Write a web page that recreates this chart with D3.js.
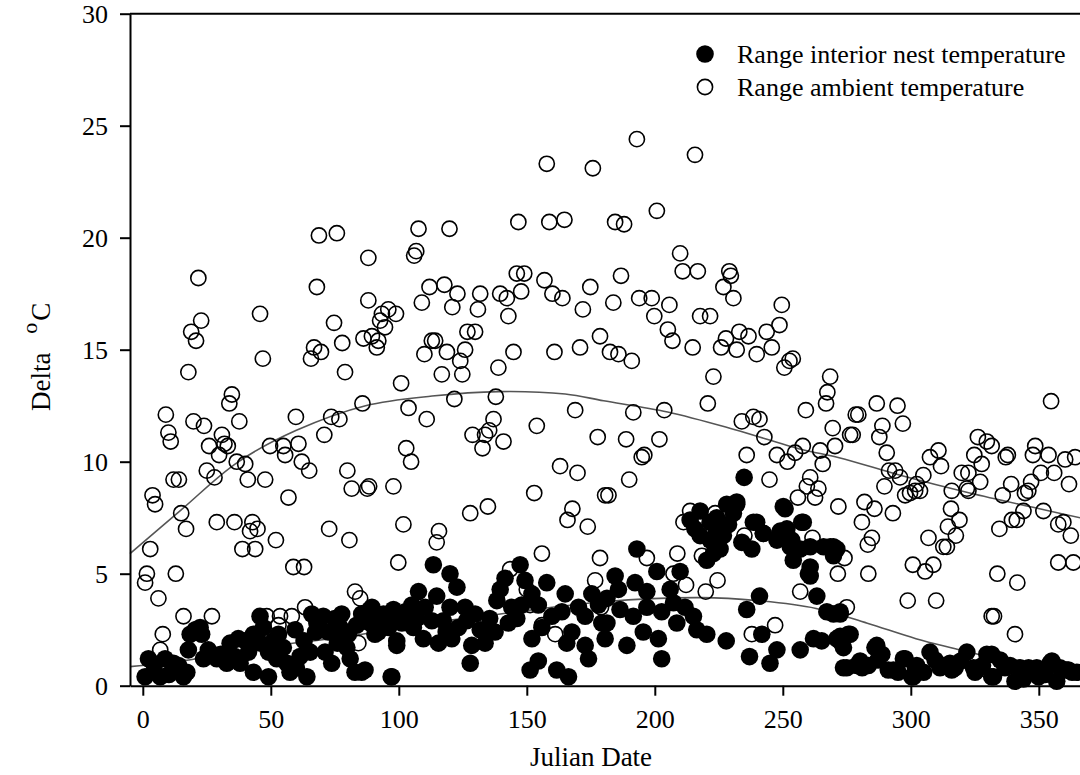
<!DOCTYPE html>
<html>
<head>
<meta charset="utf-8">
<script src="https://cdn.jsdelivr.net/npm/d3@7"></script>
<style>
  html, body { margin: 0; padding: 0; background: #fff; }
  svg { display: block; font-family: "Liberation Serif", "Times New Roman", serif; }
</style>
</head>
<body>
<div id="chart"></div>
<script>
// Julian day, delta degC  -- range of ambient temperature (open circles)
var ambientPts = [
  [21.7,18.2],[22.8,16.3],[18.9,15.8],[20.8,15.4],[17.8,14.0],[34.8,13.0],[33.8,12.6],[9.0,12.1],[10.0,11.3],[10.9,10.9],
  [19.8,11.8],[23.9,11.6],[25.9,10.7],[30.9,11.2],[31.9,10.8],[33.2,10.7],[29.8,10.3],[37.7,11.8],[45.8,16.6],[46.9,14.6],
  [68.8,20.1],[75.8,20.2],[68.0,17.8],[74.7,16.2],[66.9,15.1],[69.6,14.9],[65.7,14.6],[77.9,15.3],[79.0,14.0],[86.2,15.5],
  [88.1,19.1],[88.1,17.2],[59.8,12.0],[73.6,12.0],[76.8,11.9],[70.9,11.2],[85.8,12.6],[49.7,10.7],[54.9,10.7],[55.6,10.3],
  [60.8,10.8],[62.1,10.0],[65.0,9.6],[36.7,10.0],[40.0,9.9],[41.0,9.2],[47.8,9.2],[25.0,9.6],[28.0,9.3],[12.0,9.2],
  [14.1,9.2],[3.8,8.5],[4.8,8.1],[56.9,8.4],[79.9,9.6],[81.6,8.8],[87.7,8.8],[15.0,7.7],[16.9,7.0],[28.9,7.3],
  [35.8,7.3],[42.8,7.3],[41.9,6.9],[44.8,7.0],[38.9,6.1],[43.9,6.1],[52.0,6.5],[72.8,7.0],[80.7,6.5],[2.9,6.1],
  [1.6,5.0],[0.9,4.6],[12.9,5.0],[6.1,3.9],[58.8,5.3],[63.0,5.3],[15.9,3.1],[27.0,3.1],[7.8,2.3],[6.8,1.6],
  [82.9,4.2],[84.9,3.9],[84.2,1.9],[48.4,3.1],[53.6,3.1],[58.2,3.1],[53.0,2.7],[63.4,3.5],
  [157.8,23.3],[175.8,23.1],[107.7,20.4],[119.8,20.4],[146.7,20.7],[158.8,20.7],[164.7,20.8],[106.8,19.4],[106.0,19.2],[112.0,17.8],
  [117.8,17.9],[122.9,17.5],[131.8,17.5],[109.0,17.1],[120.9,16.9],[130.9,16.8],[139.6,17.5],[142.2,17.3],[146.1,18.4],[149.0,18.4],
  [147.8,17.6],[142.8,16.5],[156.9,18.1],[160.0,17.5],[163.9,17.3],[174.8,17.8],[171.9,16.8],[93.4,16.6],[95.9,16.8],[98.9,16.6],
  [92.7,16.3],[94.6,16.0],[89.5,15.6],[91.4,15.1],[92.0,15.4],[112.9,15.4],[114.2,15.4],[110.0,14.8],[118.8,14.9],[125.9,15.0],
  [126.8,15.8],[129.8,15.8],[124.0,14.5],[116.8,13.9],[124.8,13.9],[138.9,14.2],[144.8,14.9],[160.8,14.9],[170.8,15.1],[178.6,15.6],
  [100.9,13.5],[103.8,12.4],[110.9,11.9],[121.7,12.8],[137.9,12.9],[137.0,11.9],[128.8,11.2],[133.7,11.2],[135.3,11.4],[132.7,10.6],
  [140.9,10.9],[153.9,11.6],[168.9,12.3],[177.7,11.1],[102.9,10.6],[104.8,10.0],[163.0,9.8],[169.8,9.5],[88.4,8.9],[97.9,8.9],
  [152.9,8.6],[180.6,8.5],[127.9,7.7],[134.8,8.0],[101.8,7.2],[115.7,6.9],[114.8,6.4],[167.8,7.9],[165.9,7.4],[173.8,7.1],
  [99.8,5.5],[155.9,5.9],[178.6,5.7],[176.7,4.7],[143.5,5.2],[150.0,4.3],[151.3,3.6],[161.1,2.3],[179.0,3.5],[155.9,2.7],
  [193.0,24.4],[215.7,23.7],[200.8,21.2],[184.5,20.7],[188.0,20.6],[209.9,19.3],[210.9,18.5],[216.8,18.5],[229.1,18.5],[229.7,18.3],
  [226.8,17.8],[230.7,17.3],[186.8,18.3],[183.8,17.1],[193.9,17.3],[198.8,17.3],[205.7,17.0],[199.8,16.5],[205.1,15.9],[206.9,15.4],
  [217.7,16.5],[221.6,16.5],[214.8,15.1],[182.5,14.9],[185.8,14.8],[191.0,14.5],[227.8,15.5],[233.0,15.8],[236.6,15.6],[225.9,15.1],
  [232.0,15.0],[239.8,14.8],[243.7,15.8],[245.7,15.1],[248.7,16.1],[249.6,17.0],[250.6,14.2],[252.6,14.5],[253.9,14.6],[268.5,13.8],
  [267.4,13.1],[266.9,12.6],[222.9,13.8],[220.7,12.6],[191.6,12.2],[203.7,12.3],[188.8,11.0],[201.8,11.0],[194.9,10.2],[195.9,10.3],
  [234.0,11.8],[238.5,12.0],[240.9,11.9],[242.8,11.1],[259.0,12.3],[269.5,11.5],[270.4,10.7],[235.9,10.3],[247.7,10.3],[251.8,10.0],
  [254.8,10.4],[257.8,10.7],[264.6,10.5],[265.6,9.9],[181.9,8.5],[190.0,9.2],[244.8,9.2],[260.7,9.3],[259.4,8.9],[263.9,8.8],
  [255.9,8.4],[262.6,8.4],[271.7,8.0],[196.9,5.7],[208.8,5.9],[213.8,7.8],[211.2,7.3],[223.6,7.7],[235.0,6.7],[261.6,6.6],
  [271.5,5.0],[207.3,5.0],[212.2,4.5],[224.5,4.7],[219.9,4.2],[256.8,4.2],[218.4,5.8],[237.9,2.3],[247.0,2.7],
  [354.8,12.7],[286.7,12.6],[294.8,12.5],[279.5,12.1],[278.5,12.1],[288.9,11.6],[296.9,11.7],[277.3,11.2],[276.3,11.2],[287.7,11.1],
  [290.6,10.4],[291.5,9.6],[293.9,9.6],[295.8,9.3],[289.7,8.9],[304.9,9.4],[302.3,9.0],[297.8,8.5],[299.7,8.6],[301.7,8.7],
  [303.6,8.7],[307.5,10.2],[310.8,10.5],[311.8,9.8],[316.0,8.7],[319.9,9.5],[322.5,9.5],[321.9,8.8],[322.5,8.7],[327.1,9.1],
  [326.2,11.1],[329.7,10.9],[331.6,10.7],[324.8,10.3],[327.7,9.9],[337.1,10.2],[337.9,10.3],[335.9,8.5],[339.2,9.0],[344.6,8.6],
  [345.9,8.7],[347.0,9.1],[348.6,10.7],[347.7,10.3],[353.8,10.3],[350.8,9.5],[356.0,9.5],[360.3,10.1],[364.2,10.2],[361.8,9.0],
  [344.0,7.8],[341.4,7.4],[339.5,7.4],[351.8,7.8],[334.6,7.0],[315.7,7.9],[319.0,7.4],[314.5,7.1],[317.6,6.7],[312.7,6.2],
  [314.1,6.2],[306.9,6.6],[308.8,5.4],[300.8,5.4],[305.6,5.1],[298.8,3.8],[309.9,3.8],[285.8,7.9],[281.9,8.2],[280.9,7.3],
  [284.8,6.6],[283.2,6.3],[293.0,7.7],[274.1,5.7],[283.4,5.0],[275.0,3.5],[333.8,5.0],[341.6,4.6],[331.6,3.1],[332.5,3.1],
  [340.7,2.3],[357.6,7.2],[359.6,7.3],[357.6,5.5],[363.5,5.5],[362.5,6.7]
];

// Julian day, delta degC  -- range of interior nest temperature (filled circles)
var nestPts = [
  [0.9,0.4],[2.2,1.2],[6.8,0.4],[8.7,1.2],[12.0,1.0],[15.9,0.4],[17.2,0.6],[17.8,1.6],[18.5,2.3],[22.4,2.6],
  [23.0,2.3],[25.6,1.6],[23.7,1.2],[28.9,1.2],[32.8,1.0],[34.1,1.9],[37.3,2.1],[38.0,1.0],[43.2,0.6],[41.3,1.5],
  [43.2,2.3],[45.8,3.1],[47.1,2.6],[49.1,0.4],[49.1,1.5],[51.0,2.0],[52.3,1.2],[54.9,1.7],[56.3,1.0],[57.5,0.6],
  [59.5,2.5],[61.4,1.3],[64.1,0.4],[65.4,1.5],[66.0,3.2],[68.0,2.8],[70.5,3.1],[71.2,1.5],[73.8,1.0],[72.5,2.4],
  [77.1,2.6],[77.7,3.2],[79.7,1.7],[80.3,2.3],[81.0,1.2],[82.9,0.6],[85.5,0.6],[85.5,3.2],[88.8,3.4],[88.8,2.8],
  [92.0,2.4],[97.3,0.4],[97.9,3.2],[99.2,2.0],
  [4.5,0.9],[10.2,0.5],[14.0,0.9],[20.5,2.5],[30.5,1.4],[36.0,1.3],[40.0,2.0],[46.0,1.9],[53.0,2.3],[60.0,0.8],
  [63.0,2.0],[67.5,2.4],[75.0,3.0],[76.0,1.9],[83.5,2.7],[90.5,3.1],[94.0,3.2],[96.0,2.6],
  [113.5,5.4],[120.0,5.0],[122.7,4.4],[107.7,4.2],[114.8,4.0],[89.5,3.5],[97.9,3.4],[105.1,3.6],[110.3,3.5],[120.0,3.5],
  [125.9,3.5],[129.8,3.2],[92.0,2.9],[101.2,2.8],[105.7,2.6],[112.9,2.9],[117.4,2.9],[123.3,2.6],[131.8,2.5],[90.7,2.3],
  [99.2,1.8],[109.6,2.1],[115.5,1.9],[120.7,2.1],[128.5,1.8],[133.7,1.9],[137.6,2.4],[97.0,0.4],[86.8,0.7],[127.9,1.0],
  [139.6,4.3],[141.5,4.8],[147.4,5.4],[149.3,4.7],[138.3,3.8],[144.1,3.5],[148.0,3.6],[142.8,2.8],[146.1,3.0],[152.0,4.1],
  [157.8,4.6],[154.5,3.6],[155.9,2.6],[152.0,2.1],[154.5,1.1],[151.3,0.7],[161.7,0.7],[166.3,0.4],[159.8,3.1],[165.0,4.1],
  [163.7,3.3],[167.6,2.4],[170.2,3.5],[172.8,3.1],[175.4,4.1],[178.0,3.6],[179.3,2.8],[172.8,1.8],[174.1,1.2],[165.6,1.9],
  [102.5,3.3],[107.0,3.0],[118.5,2.4],[126.5,2.9],[135.5,3.0],
  [234.9,9.3],[232.0,8.2],[230.7,7.7],[228.8,7.2],[226.8,6.7],[224.8,6.2],[222.9,5.9],[220.3,5.6],[217.7,7.8],[213.8,7.4],
  [215.7,7.0],[221.6,7.3],[224.2,6.9],[217.7,6.7],[238.5,7.3],[234.0,6.4],[237.9,6.1],[242.4,6.8],[249.0,6.9],[250.9,7.9],
  [257.4,7.3],[253.5,6.5],[254.1,5.6],[260.0,5.0],[260.7,6.2],[265.9,6.2],[269.8,6.2],[263.3,4.0],[267.2,3.3],[269.8,3.2],
  [240.9,4.0],[235.9,3.4],[241.8,2.3],[237.0,1.3],[245.0,1.0],[247.7,1.6],[256.8,1.6],[262.0,2.1],[265.2,2.0],[271.1,2.1],
  [227.9,2.0],[273.7,0.8],[193.0,6.1],[184.5,4.9],[185.8,4.3],[181.3,3.9],[192.3,4.6],[200.8,5.1],[196.9,4.2],[206.0,4.3],
  [209.9,5.1],[186.4,3.4],[191.6,3.1],[196.9,3.5],[202.7,3.3],[207.3,3.7],[211.8,3.5],[181.3,2.8],[180.6,2.1],[189.1,1.8],
  [195.5,2.4],[208.6,2.8],[215.1,3.1],[216.4,2.5],[201.4,2.1],[220.3,2.3],[202.7,1.2],
  [239.8,7.3],[258.0,7.3],[242.4,6.8],[247.7,6.5],[251.6,7.0],[252.9,6.2],[256.8,6.1],[260.7,5.3],[260.7,4.9],[268.5,6.2],
  [269.8,5.8],[271.1,6.1],[250.2,8.0],[228.1,8.1],[232.0,8.1],[224.2,7.5],[221.6,6.5],[225.5,6.1],[272.4,3.2],[272.4,2.2],
  [276.3,2.3],[273.7,1.7],
  [275.0,0.8],[278.9,0.9],[286.0,1.7],[288.7,1.4],[293.2,0.7],[297.1,1.2],[301.0,0.4],[307.5,1.5],[311.4,0.8],[315.3,1.0],
  [321.9,1.5],[325.8,0.7],[329.7,1.4],[332.3,0.4],[338.8,0.9],[344.0,0.3],[349.2,0.8],[354.4,1.0],[357.0,0.2],[361.0,0.7],
  [364.8,0.6],[280.2,1.1],[286.7,1.8],[283.4,0.9],[291.2,0.7],[297.8,1.2],[300.4,0.4],[302.3,0.9],[312.1,0.9],[316.0,0.7],
  [324.5,0.8],[331.6,1.4],[331.6,0.4],[336.8,0.8],[340.7,0.2],[346.0,0.8],[349.9,0.4],[355.1,1.1],[361.6,0.7],[272.4,3.3],
  [275.6,2.3],[273.0,1.9],
  [281.0,0.8],[287.2,1.15],[295.0,0.6],[301.8,0.8],[309.5,1.15],[317.3,0.8],[325.1,0.6],[334.9,1.15],[342.7,0.8],[352.5,0.5],
  [358.3,0.8],[363.0,0.6],[305.0,0.6],[319.5,1.1],[328.0,0.9]
];

// fitted trend lines
var fitDays    = [-5, 15, 37, 60, 87, 113, 139, 165, 180, 205, 231, 257, 272, 297, 323, 349, 370];
var ambientFit = [5.9, 7.85, 9.97, 11.4, 12.5, 12.93, 13.13, 13.02, 12.72, 12.22, 11.44, 10.56, 10.18, 9.36, 8.6, 7.93, 7.4];
var nestFitDays = [-5, 18, 48, 75, 88, 106, 139, 180, 218, 240, 263, 283, 302, 320, 340, 366];
var nestFit     = [0.85, 1.15, 1.74, 2.12, 2.34, 2.71, 3.19, 3.75, 3.93, 3.8, 3.45, 2.79, 2.1, 1.58, 1.0, 0.3];

var xTicks = [0, 50, 100, 150, 200, 250, 300, 350];
var yTicks = [0, 5, 10, 15, 20, 25, 30];
var legendLabels = ['Range interior nest temperature', 'Range ambient temperature'];

(function() {
  'use strict';

  var svgWidth = 1080,
    svgHeight = 775,
    fontSize = 26;

  var svg = d3.select('#chart')
    .append('svg')
    .attr('width', svgWidth)
    .attr('height', svgHeight);

  var x = d3.scaleLinear().domain([-5, 370]).range([130, 1090]);
  var y = d3.scaleLinear().domain([0, 30]).range([685.7, 13.7]);

  // fitted lines go under the points
  var line = d3.line().curve(d3.curveCatmullRom);

  svg.append('path')
    .attr('d', line(fitDays.map(function(d, i) { return [x(d), y(ambientFit[i])]; })))
    .attr('fill', 'none')
    .attr('stroke', '#555')
    .attr('stroke-width', 1.6);

  svg.append('path')
    .attr('d', line(nestFitDays.map(function(d, i) { return [x(d), y(nestFit[i])]; })))
    .attr('fill', 'none')
    .attr('stroke', '#555')
    .attr('stroke-width', 1.6);

  svg.append('g').selectAll('circle')
    .data(ambientPts)
    .enter().append('circle')
    .attr('cx', function(d) { return x(d[0]); })
    .attr('cy', function(d) { return y(d[1]); })
    .attr('r', 7.6)
    .attr('fill', 'none')
    .attr('stroke', '#000')
    .attr('stroke-width', 1.6);

  svg.append('g').selectAll('circle')
    .data(nestPts)
    .enter().append('circle')
    .attr('cx', function(d) { return x(d[0]); })
    .attr('cy', function(d) { return y(d[1]); })
    .attr('r', 8.8)
    .attr('fill', '#000');

  // axes
  var yAxis = svg.append('g')
    .attr('transform', 'translate(130,0)')
    .call(d3.axisLeft(y).tickValues(yTicks).tickSize(10).tickSizeOuter(0).tickPadding(12));

  var xAxis = svg.append('g')
    .attr('transform', 'translate(0,' + y(0) + ')')
    .call(d3.axisBottom(x).tickValues(xTicks).tickSize(10).tickSizeOuter(0).tickPadding(14));

  [yAxis, xAxis].forEach(function(ax) {
    ax.select('.domain').attr('stroke-width', 2);
    ax.selectAll('.tick line').attr('stroke-width', 2);
    ax.selectAll('.tick text')
      .attr('font-family', '"Liberation Serif", "Times New Roman", serif')
      .attr('font-size', fontSize)
      .attr('fill', '#000');
  });

  // top frame line
  svg.append('line')
    .attr('x1', x(-5)).attr('x2', x(370))
    .attr('y1', y(30)).attr('y2', y(30))
    .attr('stroke', '#000')
    .attr('stroke-width', 2);

  // axis titles
  svg.append('text')
    .attr('x', 591)
    .attr('y', 766)
    .attr('text-anchor', 'middle')
    .attr('font-size', 27)
    .text('Julian Date');

  var yTitle = svg.append('text')
    .attr('transform', 'translate(50,411) rotate(-90)')
    .attr('font-size', 27);
  yTitle.append('tspan').text('Delta ');
  yTitle.append('tspan').attr('dx', 12).attr('dy', -13).attr('font-size', 22).text('o');
  yTitle.append('tspan').attr('dx', 2).attr('dy', 13).text('C');

  // legend
  var legend = svg.append('g');
  legend.append('circle')
    .attr('cx', 705).attr('cy', 54).attr('r', 8.8)
    .attr('fill', '#000');
  legend.append('circle')
    .attr('cx', 705).attr('cy', 87).attr('r', 7.6)
    .attr('fill', 'none').attr('stroke', '#000').attr('stroke-width', 1.6);

  legend.selectAll('text')
    .data(legendLabels)
    .enter().append('text')
    .attr('x', 737)
    .attr('y', function(d, i) { return 54 + i * 33; })
    .attr('dy', '0.33em')
    .attr('font-size', fontSize)
    .text(function(d) { return d; });
})();
</script>
</body>
</html>
